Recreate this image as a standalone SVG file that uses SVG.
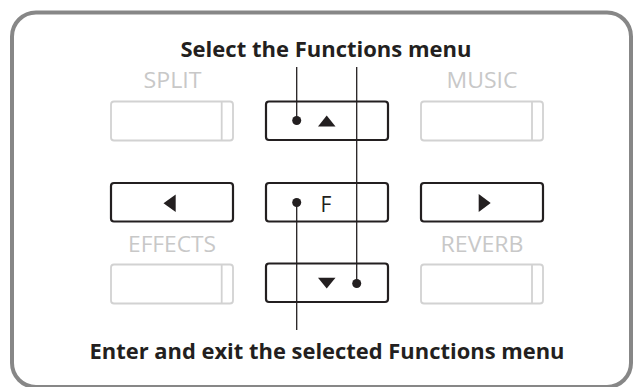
<svg xmlns="http://www.w3.org/2000/svg" width="633" height="387" viewBox="0 0 633 387">
<style>
.frame{fill:#fff;stroke:#878787;stroke-width:4}
.btn{fill:#fff;stroke:#231f20;stroke-width:2.2}
.gbtn{fill:#fff;stroke:#d2d2d2;stroke-width:1.8}
.gline{stroke:#d2d2d2;stroke-width:1.8}
.glabel{font-family:"Open Sans",sans-serif;font-size:22px;fill:#c8c8c8;text-anchor:middle}
.title{font-family:"Open Sans",sans-serif;font-weight:bold;font-size:22px;fill:#231f20;text-anchor:middle}
.key{font-family:"Open Sans",sans-serif;font-size:21px;fill:#231f20;text-anchor:middle}
.conn{stroke:#231f20;stroke-width:1.3;fill:none}
.dot{fill:#231f20}
.tri{fill:#231f20}
</style>
<rect class="frame" x="12" y="12.5" width="619" height="374.5" rx="24"/>
<text class="title" x="326" y="56.5" textLength="291" lengthAdjust="spacingAndGlyphs">Select the Functions menu</text>
<text class="title" x="327" y="358.5" textLength="475" lengthAdjust="spacingAndGlyphs">Enter and exit the selected Functions menu</text>
<g id="split">
<text class="glabel" x="172.5" y="87.5" textLength="58" lengthAdjust="spacingAndGlyphs">SPLIT</text>
<rect class="gbtn" x="111" y="101.5" width="122" height="39" rx="3"/>
<line class="gline" x1="221.7" y1="101.5" x2="221.7" y2="140.5"/>
</g>
<g id="music">
<text class="glabel" x="482" y="87.5" textLength="71" lengthAdjust="spacingAndGlyphs">MUSIC</text>
<rect class="gbtn" x="421" y="101.5" width="122" height="39" rx="3"/>
<line class="gline" x1="532" y1="101.5" x2="532" y2="140.5"/>
</g>
<g id="effects">
<text class="glabel" x="172" y="251.5" textLength="88" lengthAdjust="spacingAndGlyphs">EFFECTS</text>
<rect class="gbtn" x="111" y="264.5" width="122" height="39" rx="3"/>
<line class="gline" x1="221.7" y1="264.5" x2="221.7" y2="303.5"/>
</g>
<g id="reverb">
<text class="glabel" x="482" y="251.5" textLength="83" lengthAdjust="spacingAndGlyphs">REVERB</text>
<rect class="gbtn" x="421" y="264.5" width="122" height="39" rx="3"/>
<line class="gline" x1="532" y1="264.5" x2="532" y2="303.5"/>
</g>
<g id="up">
<rect class="btn" x="266" y="101.5" width="122" height="38.5" rx="3"/>
<polygon class="tri" points="318,126.5 335.5,126.5 326.7,115.5"/>
</g>
<g id="left">
<rect class="btn" x="111" y="183" width="122" height="38.5" rx="3"/>
<polygon class="tri" points="175.7,194.5 175.7,212 163.5,203.2"/>
</g>
<g id="f">
<rect class="btn" x="266" y="183" width="122" height="38.5" rx="3"/>
<text class="key" x="326" y="211.7">F</text>
</g>
<g id="right">
<rect class="btn" x="421" y="183" width="122" height="38.5" rx="3"/>
<polygon class="tri" points="478.7,194 478.7,212 490.7,203"/>
</g>
<g id="down">
<rect class="btn" x="266" y="263.5" width="122" height="38.5" rx="3"/>
<polygon class="tri" points="318,277.8 335.5,277.8 326.7,288.5"/>
</g>
<g id="connectors">
<line class="conn" x1="296.7" y1="67" x2="296.7" y2="120.5"/>
<circle class="dot" cx="296.7" cy="120.5" r="4.5"/>
<line class="conn" x1="356.7" y1="67" x2="356.7" y2="283.5"/>
<circle class="dot" cx="356.7" cy="283.5" r="4.5"/>
<line class="conn" x1="296.7" y1="202.5" x2="296.7" y2="330"/>
<circle class="dot" cx="296.7" cy="202.5" r="4.5"/>
</g>
</svg>
